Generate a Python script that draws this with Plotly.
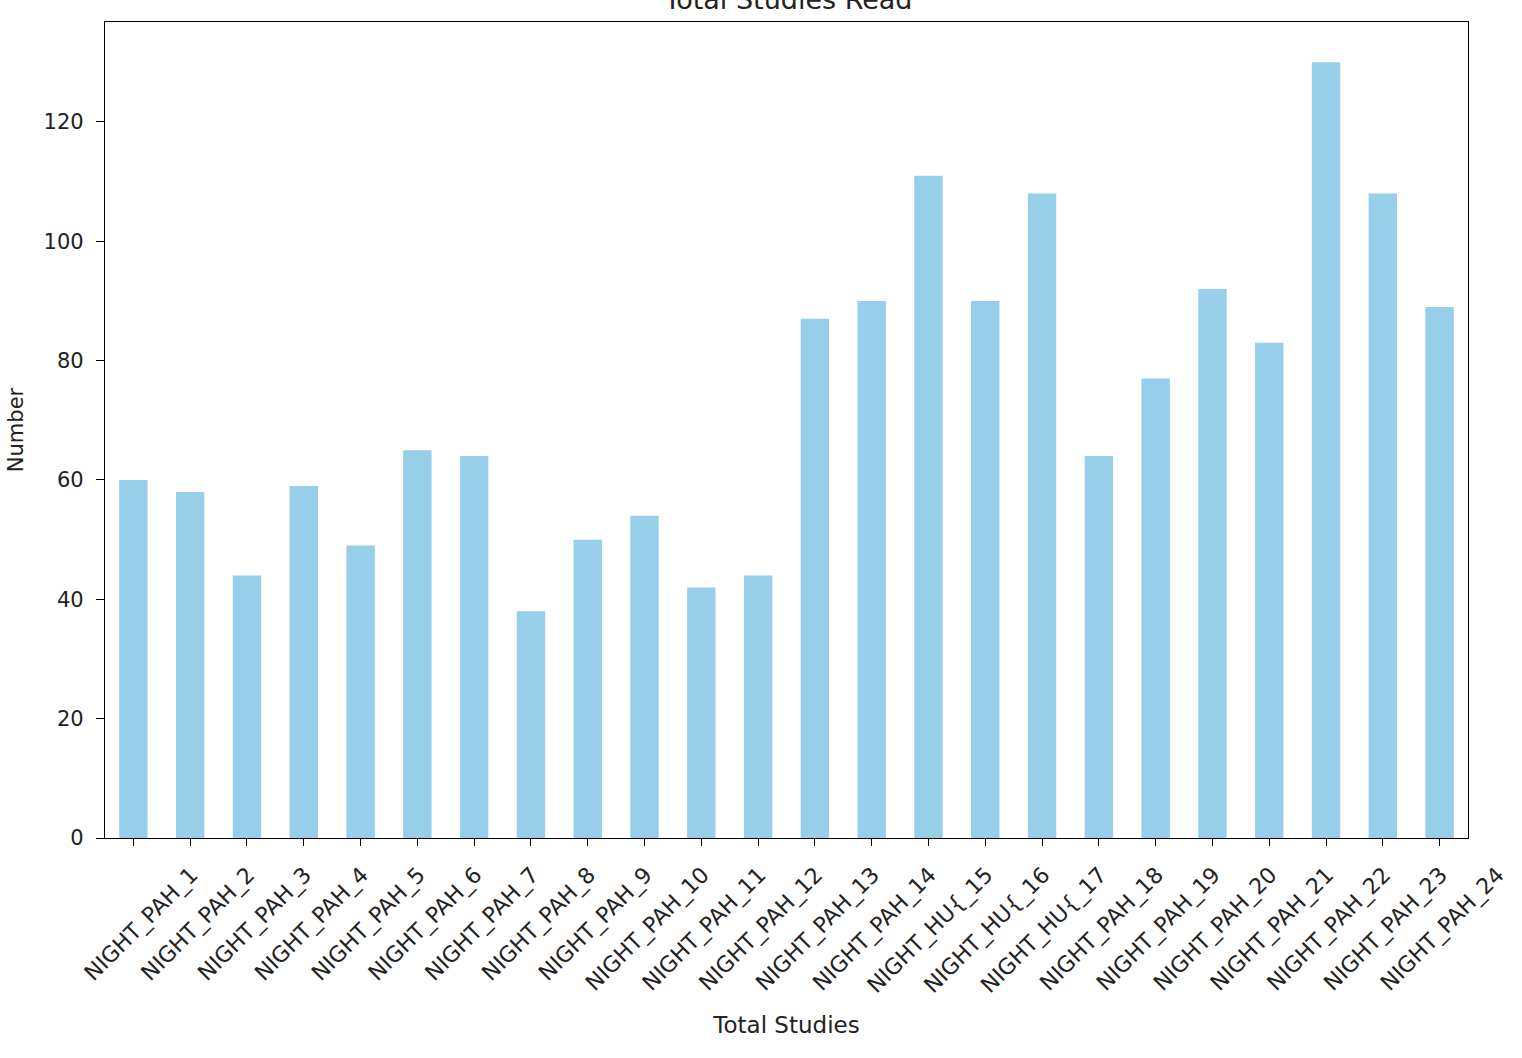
import plotly.graph_objects as go

categories = [
    "NIGHT_PAH_1", "NIGHT_PAH_2", "NIGHT_PAH_3", "NIGHT_PAH_4", "NIGHT_PAH_5",
    "NIGHT_PAH_6", "NIGHT_PAH_7", "NIGHT_PAH_8", "NIGHT_PAH_9", "NIGHT_PAH_10",
    "NIGHT_PAH_11", "NIGHT_PAH_12", "NIGHT_PAH_13", "NIGHT_PAH_14", "NIGHT_HU{_15",
    "NIGHT_HU{_16", "NIGHT_HU{_17", "NIGHT_PAH_18", "NIGHT_PAH_19", "NIGHT_PAH_20",
    "NIGHT_PAH_21", "NIGHT_PAH_22", "NIGHT_PAH_23", "NIGHT_PAH_24",
]
values = [60, 58, 44, 59, 49, 65, 64, 38, 50, 54, 42, 44,
          87, 90, 111, 90, 108, 64, 77, 92, 83, 130, 108, 89]
y_ticks = [0, 20, 40, 60, 80, 100, 120]

title_text = "Total Studies Read"
x_title = "Total Studies"
y_title = "Number"

FONT = "DejaVu Sans"

fig = go.Figure(
    go.Bar(
        x=list(range(len(categories))),
        y=values,
        width=0.5,
        marker=dict(color="#97CEE9", line=dict(width=0)),
    )
)

fig.update_layout(
    width=1522,
    height=1058,
    paper_bgcolor="white",
    plot_bgcolor="white",
    margin=dict(l=105, r=50, t=22, b=220),
    showlegend=False,
    font=dict(family=FONT, color="black", size=21),
    title=dict(
        text=title_text,
        x=0.518,
        xanchor="center",
        y=1.0,
        yref="container",
        yanchor="middle",
        font=dict(family=FONT, size=27, color="#222222"),
    ),
)

fig.update_xaxes(
    range=[-0.5, len(categories) - 0.5],
    tickmode="array",
    tickvals=list(range(len(categories))),
    ticktext=categories,
    tickangle=-45,
    ticks="outside",
    ticklen=7,
    tickwidth=1.3,
    tickcolor="black",
    ticklabelshift=58,
    ticklabelstandoff=7,
    showline=True,
    linecolor="black",
    linewidth=1.3,
    mirror=True,
    showgrid=False,
    zeroline=False,
    tickfont=dict(family=FONT, size=22, color="#222222"),
    title=dict(text=x_title, standoff=19, font=dict(family=FONT, size=23, color="#222222")),
)

fig.update_yaxes(
    range=[0, 136.75],
    tickmode="array",
    tickvals=y_ticks,
    ticks="outside",
    ticklen=8,
    tickwidth=1.3,
    tickcolor="black",
    ticklabelstandoff=8,
    showline=True,
    linecolor="black",
    linewidth=1.3,
    mirror=True,
    showgrid=False,
    zeroline=False,
    tickfont=dict(family=FONT, size=21, color="#222222"),
    title=dict(text=y_title, standoff=14, font=dict(family=FONT, size=21, color="#222222")),
)

fig.write_html(
    "out.html",
    config={"displayModeBar": False},
    post_script="document.body.style.margin='0';document.body.style.padding='0';",
)
